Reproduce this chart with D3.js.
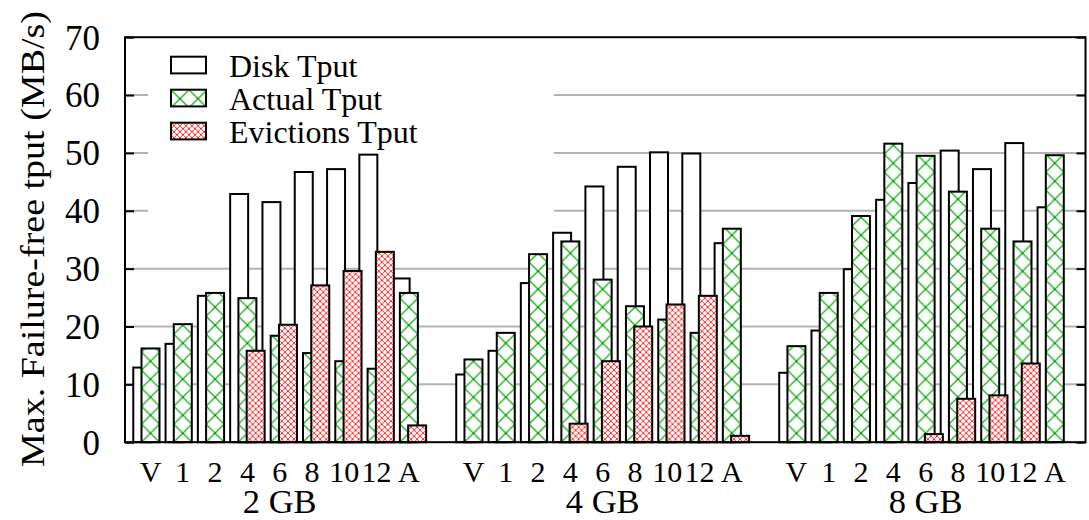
<!DOCTYPE html>
<html>
<head>
<meta charset="utf-8">
<script src="https://cdn.jsdelivr.net/npm/d3@7"></script>
<style>
  body { margin: 0; background: #fff; }
  svg { display: block; }
  text { font-family: "Liberation Serif", "Times New Roman", serif; fill: #000; }
</style>
</head>
<body>
<svg id="chart" width="1089" height="520"></svg>
<script>
// Memory sizes (clusters) and the configurations measured within each one
const groups = ["2 GB", "4 GB", "8 GB"];
const categories = ["V", "1", "2", "4", "6", "8", "10", "12", "A"];
const seriesNames = ["Disk Tput", "Actual Tput", "Evictions Tput"];

// Throughput in MB/s, listed group by group in category order
const diskTput = [
  12.9, 17.0, 25.3, 42.9, 41.5, 46.7, 47.2, 49.7, 28.3,
  11.7, 15.8, 27.5, 36.2, 44.2, 47.6, 50.1, 49.9, 34.4,
  12.0, 19.3, 29.9, 41.9, 44.8, 50.4, 47.2, 51.7, 40.6
];
const actualTput = [
  16.2, 20.4, 25.8, 24.9, 18.4, 15.4, 14.0, 12.7, 25.8,
  14.3, 18.9, 32.5, 34.7, 28.1, 23.5, 21.2, 18.9, 36.9,
  16.6, 25.8, 39.1, 51.6, 49.5, 43.3, 36.9, 34.7, 49.6
];
const evictionsTput = [
  0, 0, 0, 15.8, 20.3, 27.1, 29.6, 32.9, 2.9,
  0, 0, 0, 3.2, 14.0, 20.0, 23.8, 25.3, 1.1,
  0, 0, 0, 0, 1.4, 7.5, 8.1, 13.6, 0
];
const yTicks = [0, 10, 20, 30, 40, 50, 60, 70];
const gridValues = [10, 20, 30, 40, 50, 60];

const svg = d3.select("#chart");
const W = 1089, H = 520;
const plot = { left: 125, right: 1085.5, top: 37.2, bottom: 442.2 };

// Each category occupies one slot; one empty slot separates the clusters
const slotsPerGroup = categories.length + 1;
const rows = [];
groups.forEach((g, gi) => {
  categories.forEach((c, ci) => {
    const k = gi * categories.length + ci;
    rows.push({
      group: g, cat: c, slot: gi * slotsPerGroup + ci,
      values: [diskTput[k], actualTput[k], evictionsTput[k]]
    });
  });
});

const x = d3.scaleLinear().domain([-0.79, 28.95]).range([plot.left, plot.right]);
const y = d3.scaleLinear().domain([0, 70]).range([plot.bottom, plot.top]);

const barWidth = 0.557;                        // in slot units
const seriesOffset = [-0.534, -0.279, -0.023]; // left edge relative to slot centre

// Fill patterns
const defs = svg.append("defs");
const pActual = defs.append("pattern").attr("id", "fillActual")
  .attr("patternUnits", "userSpaceOnUse").attr("width", 18).attr("height", 18);
pActual.append("rect").attr("width", 18).attr("height", 18).attr("fill", "#fff");
pActual.append("path").attr("d", "M0,0L18,18M18,0L0,18")
  .attr("stroke", "#14b014").attr("stroke-width", 1.3).attr("fill", "none");
pActual.selectAll("circle").data([[9, 9], [0, 0], [18, 0], [0, 18], [18, 18]]).join("circle")
  .attr("cx", d => d[0]).attr("cy", d => d[1]).attr("r", 1.1).attr("fill", "#0a8a0a");

const pEvict = defs.append("pattern").attr("id", "fillEvict")
  .attr("patternUnits", "userSpaceOnUse").attr("width", 6).attr("height", 6);
pEvict.append("rect").attr("width", 6).attr("height", 6).attr("fill", "#fff");
pEvict.append("path").attr("d", "M0,0L6,6M6,0L0,6")
  .attr("stroke", "#ff1010").attr("stroke-width", 0.9).attr("fill", "none");

const fills = ["#fff", "url(#fillActual)", "url(#fillEvict)"];

// Background
svg.append("rect").attr("width", W).attr("height", H).attr("fill", "#fff");

// Horizontal grid lines
svg.append("g").selectAll("line").data(gridValues).join("line")
  .attr("x1", plot.left).attr("x2", plot.right)
  .attr("y1", d => y(d)).attr("y2", d => y(d))
  .attr("stroke", "#b3b3b3").attr("stroke-width", 2);

// Opaque key area
svg.append("rect").attr("x", 148).attr("y", plot.top + 1)
  .attr("width", 554 - 148).attr("height", 240 - plot.top)
  .attr("fill", "#fff");

// Bars, one series after another so later series sit in front
const step = x(1) - x(0);
seriesNames.forEach((name, si) => {
  const g = svg.append("g").attr("class", "series-" + si);
  g.selectAll("g").data(rows.filter(r => r.values[si] > 0)).join("g")
    .attr("transform", r => `translate(${x(r.slot + seriesOffset[si])},${y(0)})`)
    .append("rect")
      .attr("x", 0)
      .attr("y", r => y(r.values[si]) - y(0))
      .attr("width", barWidth * step)
      .attr("height", r => y(0) - y(r.values[si]))
      .attr("fill", fills[si])
      .attr("stroke", "#000").attr("stroke-width", 2);
});

// Axes: ticks point inward on both sides
const yAxisL = svg.append("g").attr("transform", `translate(${plot.left},0)`)
  .call(d3.axisLeft(y).tickValues(yTicks).tickSize(-9).tickPadding(25));
yAxisL.select(".domain").remove();
yAxisL.selectAll("line").attr("stroke", "#000").attr("stroke-width", 2);
yAxisL.selectAll("text").attr("font-size", 35)
  .attr("font-family", "Liberation Serif").attr("dy", "0.34em");

const yAxisR = svg.append("g").attr("transform", `translate(${plot.right},0)`)
  .call(d3.axisRight(y).tickValues(yTicks).tickSize(-9).tickFormat(""));
yAxisR.select(".domain").remove();
yAxisR.selectAll("line").attr("stroke", "#000").attr("stroke-width", 2);

// Frame
svg.append("rect").attr("x", plot.left).attr("y", plot.top)
  .attr("width", plot.right - plot.left).attr("height", plot.bottom - plot.top)
  .attr("fill", "none").attr("stroke", "#000").attr("stroke-width", 2);

// Category labels
svg.append("g").selectAll("text").data(rows).join("text")
  .attr("x", r => x(r.slot)).attr("y", 481.5)
  .attr("text-anchor", "middle").attr("font-size", 30)
  .text(r => r.cat);

// Cluster labels
svg.append("g").selectAll("text").data(groups).join("text")
  .attr("x", (g, gi) => (x(gi * slotsPerGroup) + x(gi * slotsPerGroup + categories.length - 1)) / 2)
  .attr("y", 512.5)
  .attr("text-anchor", "middle").attr("font-size", 34.5)
  .text(g => g);

// Y axis title
svg.append("text")
  .attr("transform", "translate(44,239) rotate(-90)")
  .attr("text-anchor", "middle").attr("font-size", 34)
  .attr("textLength", 456).attr("lengthAdjust", "spacingAndGlyphs")
  .text("Max. Failure-free tput (MB/s)");

// Legend
const legend = svg.append("g");
seriesNames.forEach((name, si) => {
  const row = legend.append("g").attr("transform", `translate(171,${56.7 + si * 33})`);
  row.append("rect").attr("width", 35).attr("height", 16.7)
    .attr("fill", fills[si]).attr("stroke", "#000").attr("stroke-width", 2);
  row.append("text").attr("x", 58).attr("y", 20.6)
    .attr("font-size", 32).text(name);
});
</script>
</body>
</html>
